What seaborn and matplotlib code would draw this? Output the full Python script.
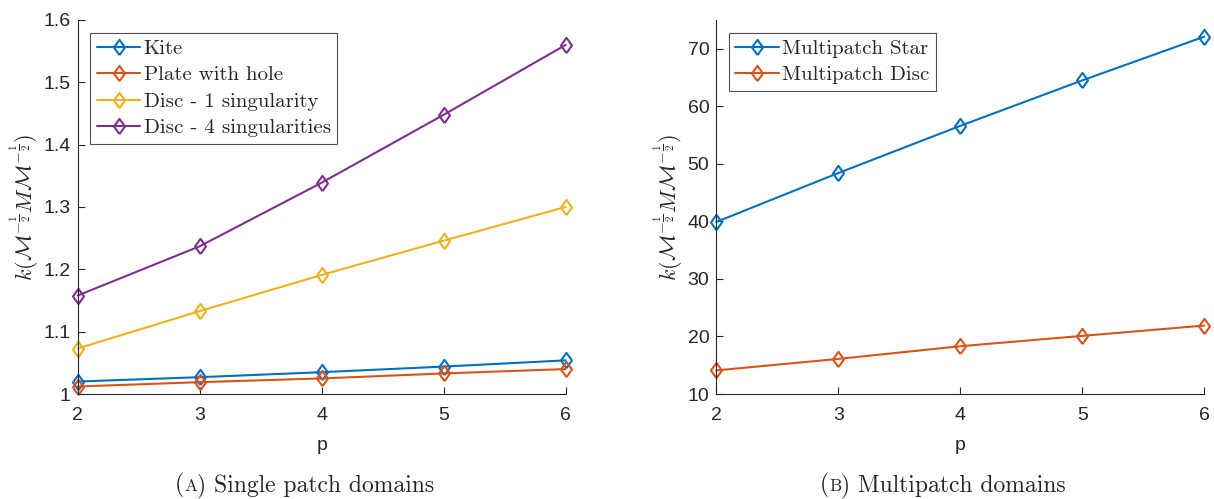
import matplotlib
matplotlib.use("Agg")
import matplotlib.pyplot as plt
import seaborn as sns
import pandas as pd

p_values = [2, 3, 4, 5, 6]

kite = [1.020, 1.027, 1.035, 1.044, 1.054]
plate_with_hole = [1.012, 1.019, 1.025, 1.033, 1.040]
disc_1_sing = [1.073, 1.133, 1.191, 1.246, 1.300]
disc_4_sing = [1.158, 1.237, 1.339, 1.448, 1.560]
single_labels = ["Kite", "Plate with hole", "Disc - 1 singularity", "Disc - 4 singularities"]

multi_star = [39.9, 48.4, 56.6, 64.5, 72.1]
multi_disc = [14.1, 16.1, 18.3, 20.1, 21.9]
multi_labels = ["Multipatch Star", "Multipatch Disc"]

colors = ["#0072BD", "#D95319", "#EDB120", "#7E2F8E"]

sns.set_style("ticks")
plt.rcParams["font.family"] = ["Liberation Sans", "DejaVu Sans"]
plt.rcParams["mathtext.fontset"] = "cm"

DIAMOND = [(0, -1), (0.72, 0), (0, 1), (-0.72, 0), (0, -1)]

fig = plt.figure(figsize=(12.14, 4.99), dpi=100)
axA = fig.add_axes([0.064, 0.2104, 0.402, 0.7496])
axB = fig.add_axes([0.590, 0.2104, 0.402, 0.7496])


def make_df(series, labels):
    rows = []
    for vals, lab in zip(series, labels):
        for p, v in zip(p_values, vals):
            rows.append({"p": p, "k": v, "domain": lab})
    return pd.DataFrame(rows)


def draw(ax, series, labels, cols, ylim, yticks, yticklabels):
    df = make_df(series, labels)
    sns.lineplot(data=df, x="p", y="k", hue="domain", hue_order=labels,
                 palette=cols, marker=DIAMOND, markersize=11, linewidth=1.5,
                 markeredgewidth=1.5, legend=False, ax=ax)
    for ln, c in zip(ax.lines, cols):
        ln.set_markerfacecolor("none")
        ln.set_markeredgecolor(c)
        ln.set_clip_on(False)
    ax.set_xlim(2, 6)
    ax.set_ylim(*ylim)
    ax.set_xticks(p_values)
    ax.set_xticklabels([str(p) for p in p_values])
    ax.set_yticks(yticks)
    ax.set_yticklabels(yticklabels)
    ax.tick_params(direction="in", length=5, width=0.8, labelsize=14,
                   colors="#262626")
    ax.tick_params(axis="x", pad=9)
    ax.tick_params(axis="y", pad=5)
    for s in ["top", "right"]:
        ax.spines[s].set_visible(False)
    for s in ["left", "bottom"]:
        ax.spines[s].set_color("#262626")
        ax.spines[s].set_linewidth(0.8)
    ax.set_xlabel("p", fontsize=14, color="#262626", labelpad=10)
    ax.set_ylabel(r"$k(\mathcal{M}^{-\frac{1}{2}} M \mathcal{M}^{-\frac{1}{2}})$",
                  fontsize=16, color="#262626", labelpad=2)
    leg = ax.legend(ax.lines, labels, loc="upper left",
                    bbox_to_anchor=(0.026, 0.965), frameon=True, fancybox=False,
                    prop={"family": "cmr10", "size": 15}, handlelength=2.1,
                    handletextpad=0.15, borderpad=0.3, labelspacing=0.38,
                    borderaxespad=0.0)
    leg.get_frame().set_edgecolor("#262626")
    leg.get_frame().set_linewidth(0.8)


draw(axA, [kite, plate_with_hole, disc_1_sing, disc_4_sing], single_labels, colors,
     (1.0, 1.6), [1.0, 1.1, 1.2, 1.3, 1.4, 1.5, 1.6],
     ["1", "1.1", "1.2", "1.3", "1.4", "1.5", "1.6"])
draw(axB, [multi_star, multi_disc], multi_labels, colors[:2],
     (10, 75), [10, 20, 30, 40, 50, 60, 70],
     ["10", "20", "30", "40", "50", "60", "70"])

# captions with small-caps letter
renderer = fig.canvas.get_renderer()
W = fig.bbox.width


def caption(x_left_px, letter, rest):
    y = 0.016
    t1 = fig.text(x_left_px / W, y, "(", family="cmr10", fontsize=17, va="baseline")
    x = t1.get_window_extent(renderer).x1
    t2 = fig.text(x / W, y, letter, family="cmr10", fontsize=12.5, va="baseline")
    x = t2.get_window_extent(renderer).x1
    fig.text(x / W, y, ") " + rest, family="cmr10", fontsize=17, va="baseline")


caption(175, "A", "Single patch domains")
caption(820, "B", "Multipatch domains")

fig.savefig("out.png", dpi=100)
